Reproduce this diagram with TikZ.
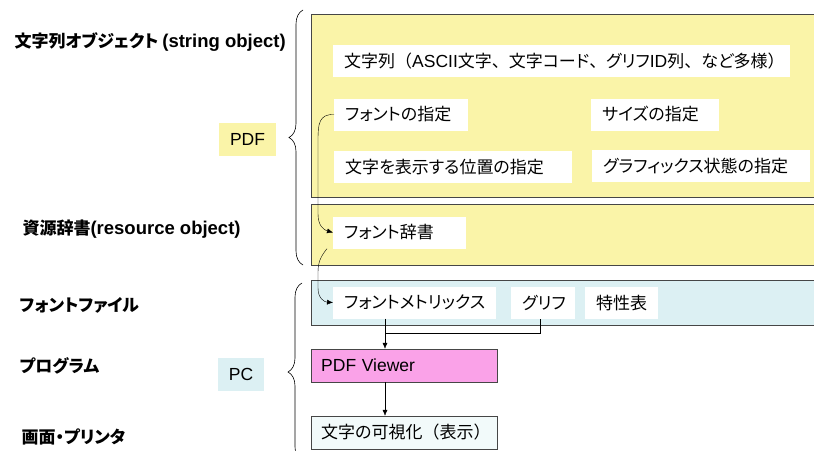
\documentclass[tikz,border=0pt]{standalone}
\usepackage{fontspec}
\setmainfont[RawFeature=+palt]{Noto Sans CJK JP}
\newfontfamily\jpfull{Noto Sans CJK JP}
\newfontfamily\lat{Liberation Sans}
\newcommand\en[1]{{\lat\fontsize{17.5}{20}\selectfont #1}}
\newcommand\enb[1]{{\lat\bfseries\fontsize{18.5}{20}\selectfont #1}}
\newcommand\fw[1]{{\jpfull #1}}
\usetikzlibrary{arrows.meta,decorations.pathreplacing}
\definecolor{pdfyellow}{RGB}{250,244,168}
\definecolor{pcblue}{RGB}{220,240,243}
\definecolor{viewpink}{RGB}{250,162,232}
\definecolor{palecyan}{RGB}{242,250,250}
\definecolor{edgegray}{RGB}{70,70,70}

\begin{document}
\begin{tikzpicture}[x=1pt,y=-1pt,
  every node/.style={font=\fontsize{17}{20}\selectfont},
  lbl/.style={anchor=west,font=\fontsize{17}{20}\selectfont\bfseries},
  item/.style={anchor=west,fill=white,inner xsep=11pt,minimum height=32pt,
    text width=#1,align=left},
  tag/.style={minimum height=33pt},
  arr/.style={-{Latex[length=6pt,width=5pt]}},
  brc/.style={decorate,decoration={brace,amplitude=14pt},semithick}]
\useasboundingbox (0,0) rectangle (814,450);

% left column
\node[lbl] (lstr) at (11,42) {文字列オブジェクト \enb{(string object)}};
\node[lbl] (lres) at (19,229) {資源辞書\enb{(resource object)}};
\node[lbl] (lfile) at (16,305) {フォントファイル};
\node[lbl] (lprog) at (16,366) {プログラム};
\node[lbl] (lscr) at (18,437) {画面・プリンタ};
\node[tag,fill=pdfyellow,minimum width=57pt] (pdf) at (247.5,139.5) {\en{PDF}};
\node[tag,fill=pcblue,minimum width=46pt] (pc) at (241,374.5) {\en{PC}};
\draw[brc] (303,265) -- (303,10);
\draw[brc] (302,461) -- (302,283);

% layers
\draw[edgegray,fill=pdfyellow] (311,14) rectangle (830,197);
\draw[edgegray,fill=pdfyellow] (311,204) rectangle (830,265);
\draw[edgegray,fill=pcblue] (311,280) rectangle (830,325);

% string object
\node[item=435pt] (chars) at (333,61)
  {文字列\fw{（}\en{ASCII}文字\fw{、}文字コード\fw{、}グリフ\en{ID}列\fw{、}など多様\fw{）}};
\node[item=112pt] (fontsel) at (334,114.5) {フォントの指定};
\node[item=106pt] (sizesel) at (591,114.5) {サイズの指定};
\node[item=216pt] (possel) at (334,167) {文字を表示する位置の指定};
\node[item=196pt] (gssel) at (592,166) {グラフィックス状態の指定};

% resources, font file
\node[item=111pt] (fdict) at (333,232.5) {フォント辞書};
\node[item=141pt] (metrics) at (333,302.5) {フォントメトリックス};
\node[item=42pt] (glyph) at (511,303) {グリフ};
\node[item=51pt] (props) at (585,303) {特性表};

% program, output
\node[draw=edgegray,fill=viewpink,anchor=west,minimum height=33pt,
  text width=166pt,inner xsep=10pt] (viewer) at (311,365.5) {\en{PDF Viewer}};
\node[draw=edgegray,fill=palecyan,anchor=west,minimum height=33pt,
  text width=166pt,inner xsep=10pt] (show) at (311,432.5) {文字の可視化\fw{（}表示\fw{）}};

% connectors
\draw[arr] (fontsel.west) .. controls (319,114) and (318,124) .. (318,140)
  -- (318,214) .. controls (318,226) and (324,230) .. (fdict.west);
\draw[arr] ([xshift=-6pt]fdict.south west) .. controls (321,256) and (318,262) .. (318,272)
  -- (318,288) .. controls (318,298) and (324,302) .. (metrics.west);
\coordinate (jn) at (385,333);
\draw (jn |- metrics.south) -- (jn);
\draw ([xshift=-3pt]glyph.south) |- (jn);
\draw[arr] (jn) -- (jn |- viewer.north);
\draw[arr] (jn |- viewer.south) -- (jn |- show.north);
\end{tikzpicture}
\end{document}
